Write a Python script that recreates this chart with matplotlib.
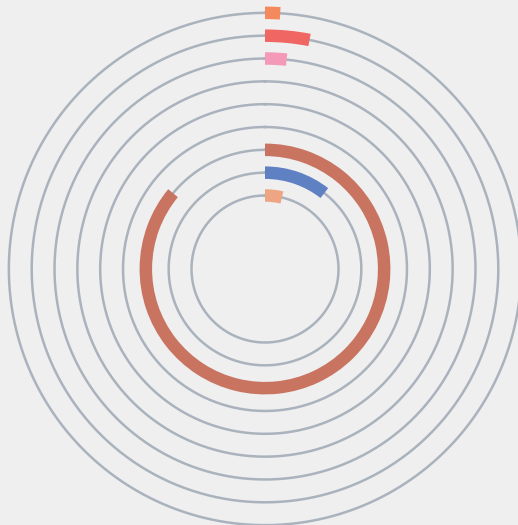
import numpy as np
import matplotlib.pyplot as plt

# tracks from the inside out, values are sweep angles in degrees
categories = ["c1", "c2", "c3", "c4", "c5", "c6", "c7", "c8", "c9"]
values = [13.3, 38.0, 309.5, 0, 0, 0, 5.9, 11.0, 3.4]
colors = ["#EDA584", "#5F80C3", "#C87461", "#C87461", "#C87461",
          "#C87461", "#F49AB8", "#F06663", "#F5895E"]

W, H = 518, 525
cx, cy = 265, 269          # center in pixels (from top)
step = 22.83               # pixels per track
inner = 73.5 / step        # radius of first track in data units
rmax = 12.0

fig = plt.figure(figsize=(W / 100, H / 100), dpi=100)
fig.patch.set_facecolor("#EFEFEF")

R = rmax * step
ax = fig.add_axes([(cx - R) / W, (H - cy - R) / H, 2 * R / W, 2 * R / H],
                  projection="polar")
ax.set_theta_zero_location("N")
ax.set_theta_direction(-1)
ax.set_rlim(0, rmax)
ax.axis("off")
ax.patch.set_alpha(0)

pos = inner + np.arange(len(categories))
t = np.linspace(0, 2 * np.pi, 720)
for r in pos:
    ax.plot(t, np.full_like(t, r), color="#AAB3BD", lw=1.8, zorder=1)

bar_h = 12.5 / step
for r, v, c in zip(pos, values, colors):
    if v <= 0:
        continue
    ax.bar(0, bar_h, width=np.radians(v), bottom=r - bar_h / 2,
           align="edge", color=c, edgecolor="none", zorder=2)

fig.savefig("out.png", dpi=100, facecolor=fig.get_facecolor())
